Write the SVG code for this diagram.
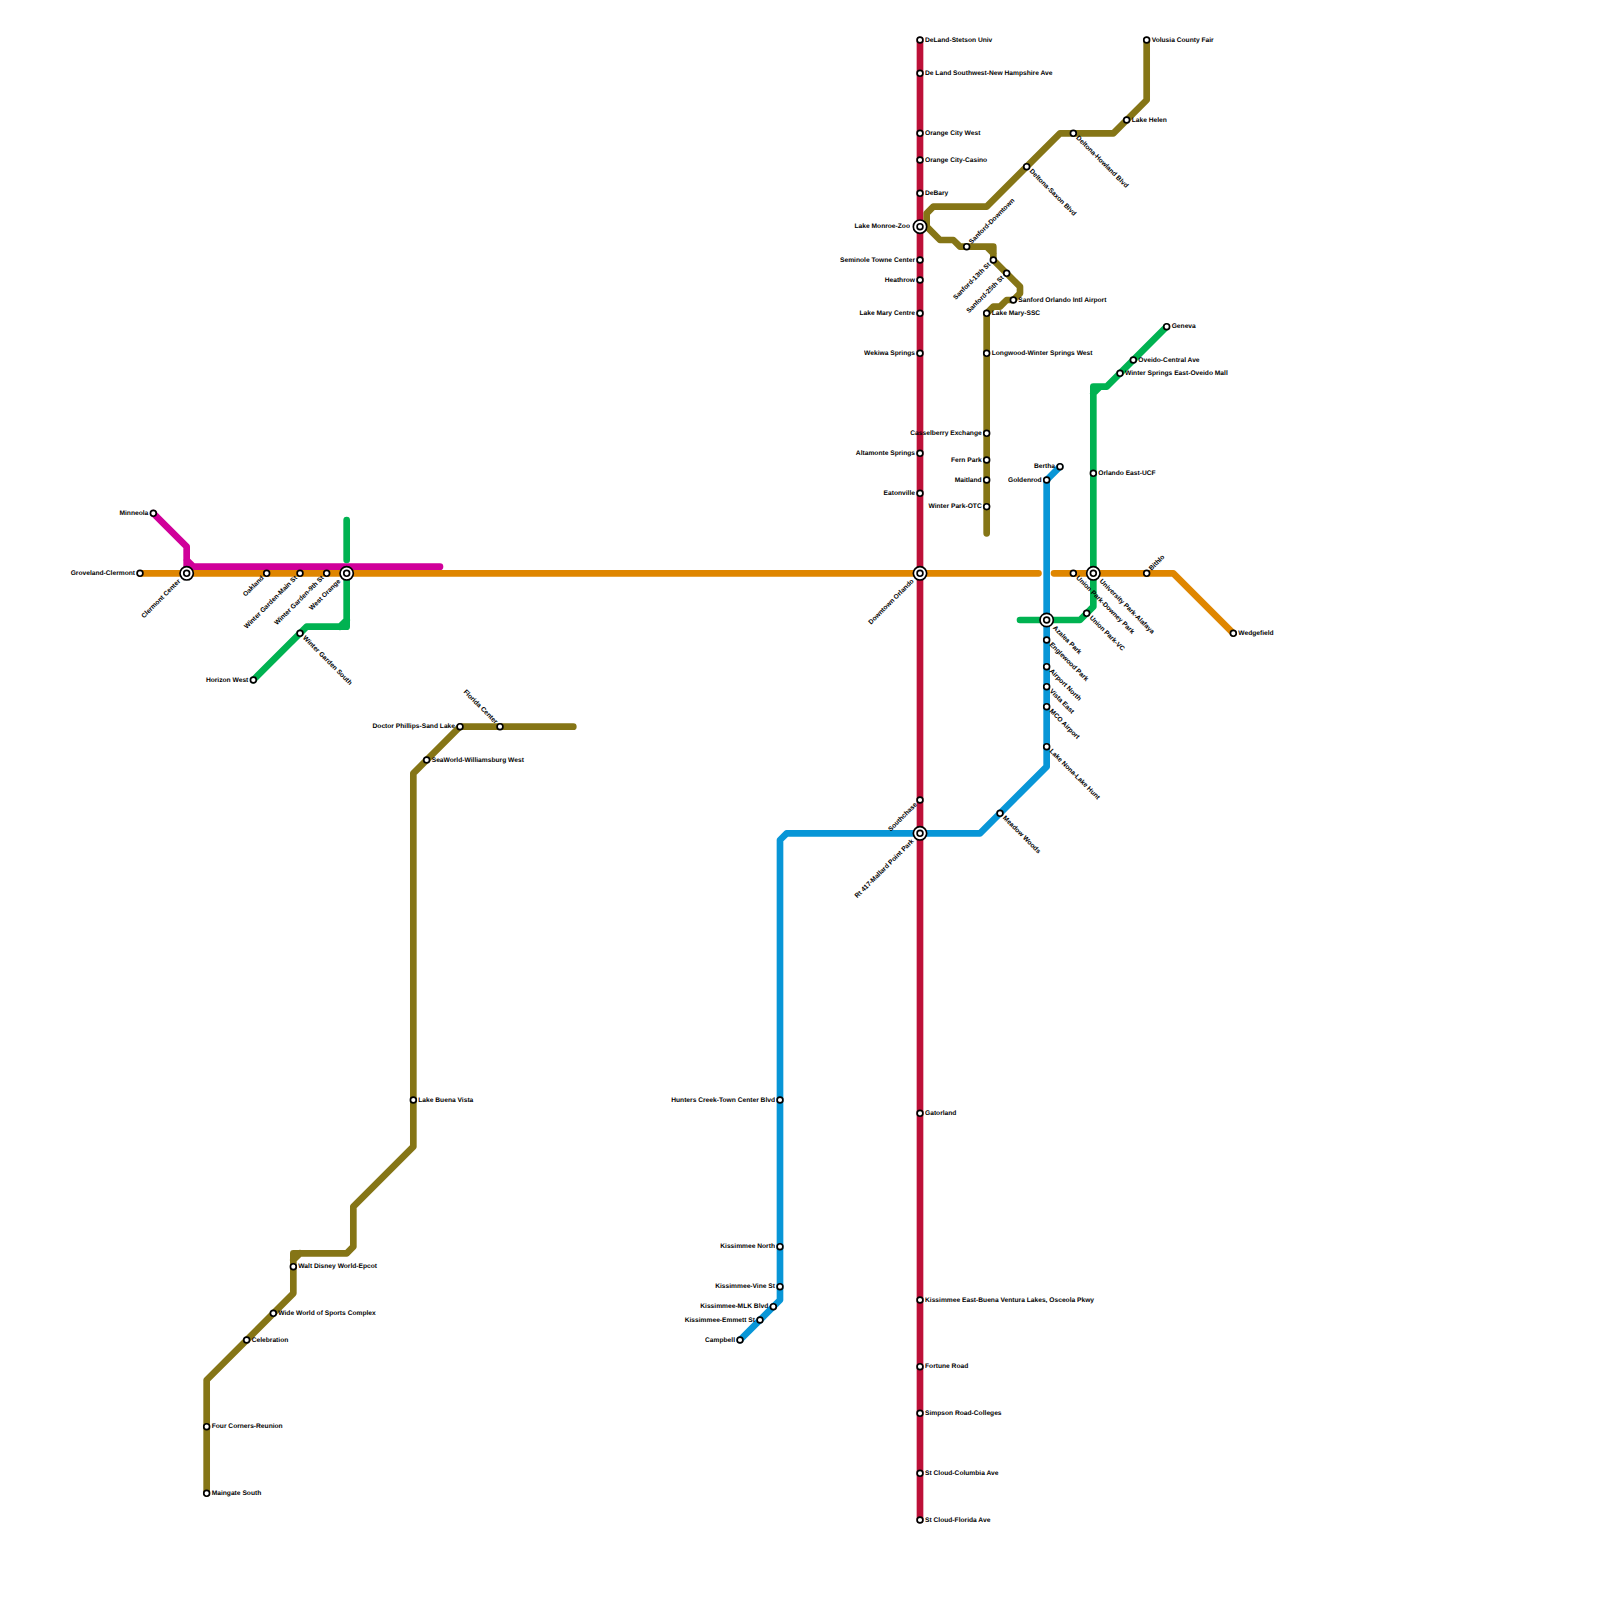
<svg xmlns="http://www.w3.org/2000/svg" width="1600" height="1600" viewBox="0 0 1600 1600">
<style>
text{font-family:"Liberation Sans",Arial,sans-serif;font-size:6.67px;font-weight:700;fill:#000;text-rendering:geometricPrecision;opacity:.999}
.e{text-anchor:end}
.l{fill:none;stroke-width:6.67;stroke-linecap:round;stroke-linejoin:round}
.red{stroke:#bd1038}.ora{stroke:#df8600}.blu{stroke:#0896d7}.oli{stroke:#857516}.gre{stroke:#00b251}.mag{stroke:#d0009a}
.s{fill:#fff;stroke:#000;stroke-width:1.67}
.o{fill:#fff;stroke:#000;stroke-width:1.67}
</style>
<g id="connectors">
<path class="l ora" d="M140 573.33H1038.5M1054 573.33H1173.33L1233.33 633.33"/>
<path class="l red" d="M920 40V1520"/>
<path class="l mag" d="M153.33 513.33L186.67 546.67V566.67M186.67 560L193.33 566.67H440"/>
<path class="l gre" d="M346.67 520V560M346.67 573.33V626.67H306.67L253.33 680M346.67 620L340 626.67"/>
<path class="l gre" d="M1020 620H1080L1093.33 606.67V386.67H1106.67L1166.67 326.67M1093.33 393.33L1100 386.67"/>
<path class="l blu" d="M1060 466.67L1046.67 480V766.67L980 833.33H786.67L780 840V1300L740 1340"/>
<path class="l oli" d="M1146.67 40V100L1113.33 133.33H1060L986.67 206.67H933.33L926.67 213.33V226.67L940 240H953.33L960 246.67H993.33V260L1020 286.67V293.33L1013.33 300H1006.67L1000 306.67H993.33L986.67 313.33V533.33M986.67 246.67L993.33 253.33"/>
<path class="l oli" d="M573.33 726.67H460L413.33 773.33V1146.67L353.33 1206.67V1246.67L346.67 1253.33H293.33V1293.33L206.67 1380V1493.33M300 1253.33L293.33 1260"/>
</g>
<g id="nodes">
<g id="n1"><circle class="s" cx="920" cy="40" r="2.9"/><text x="925" y="41.7">DeLand-Stetson Univ</text></g>
<g id="n2"><circle class="s" cx="920" cy="73.33" r="2.9"/><text x="925" y="75">De Land Southwest-New Hampshire Ave</text></g>
<g id="n3"><circle class="s" cx="920" cy="133.33" r="2.9"/><text x="925" y="135">Orange City West</text></g>
<g id="n4"><circle class="s" cx="920" cy="160" r="2.9"/><text x="925" y="161.7">Orange City-Casino</text></g>
<g id="n5"><circle class="s" cx="920" cy="193.33" r="2.9"/><text x="925" y="195">DeBary</text></g>
<g id="n6"><circle class="o" cx="920" cy="226.67" r="6.67"/><circle class="s" cx="920" cy="226.67" r="2.9"/><text class="e" x="910" y="228.3">Lake Monroe-Zoo</text></g>
<g id="n7"><circle class="s" cx="920" cy="260" r="2.9"/><text class="e" x="915" y="261.7">Seminole Towne Center</text></g>
<g id="n8"><circle class="s" cx="920" cy="280" r="2.9"/><text class="e" x="915" y="281.7">Heathrow</text></g>
<g id="n9"><circle class="s" cx="920" cy="313.33" r="2.9"/><text class="e" x="915" y="315">Lake Mary Centre</text></g>
<g id="n10"><circle class="s" cx="920" cy="353.33" r="2.9"/><text class="e" x="915" y="355">Wekiwa Springs</text></g>
<g id="n11"><circle class="s" cx="920" cy="453.33" r="2.9"/><text class="e" x="915" y="455">Altamonte Springs</text></g>
<g id="n12"><circle class="s" cx="920" cy="493.33" r="2.9"/><text class="e" x="915" y="495">Eatonville</text></g>
<g id="n13"><circle class="o" cx="920" cy="573.33" r="6.67"/><circle class="s" cx="920" cy="573.33" r="2.9"/><text class="e" transform="translate(920 573.33) rotate(-45)" x="-10" y="1.7">Downtown Orlando</text></g>
<g id="n14"><circle class="s" cx="920" cy="800" r="2.9"/><text class="e" transform="translate(920 800) rotate(-45)" x="-5.3" y="1.7">Southchase</text></g>
<g id="n15"><circle class="o" cx="920" cy="833.33" r="6.67"/><circle class="s" cx="920" cy="833.33" r="2.9"/><text class="e" transform="translate(920 833.33) rotate(-45)" x="-10" y="1.7">Rt 417-Mallard Point Park</text></g>
<g id="n16"><circle class="s" cx="920" cy="1113.33" r="2.9"/><text x="925" y="1115">Gatorland</text></g>
<g id="n17"><circle class="s" cx="920" cy="1300" r="2.9"/><text x="925" y="1301.7">Kissimmee East-Buena Ventura Lakes, Osceola Pkwy</text></g>
<g id="n18"><circle class="s" cx="920" cy="1366.67" r="2.9"/><text x="925" y="1368.3">Fortune Road</text></g>
<g id="n19"><circle class="s" cx="920" cy="1413.33" r="2.9"/><text x="925" y="1415">Simpson Road-Colleges</text></g>
<g id="n20"><circle class="s" cx="920" cy="1473.33" r="2.9"/><text x="925" y="1475">St Cloud-Columbia Ave</text></g>
<g id="n21"><circle class="s" cx="920" cy="1520" r="2.9"/><text x="925" y="1521.7">St Cloud-Florida Ave</text></g>
<g id="n22"><circle class="s" cx="140" cy="573.33" r="2.9"/><text class="e" x="135" y="575">Groveland-Clermont</text></g>
<g id="n23"><circle class="o" cx="186.67" cy="573.33" r="6.67"/><circle class="s" cx="186.67" cy="573.33" r="2.9"/><text class="e" transform="translate(186.67 573.33) rotate(-45)" x="-10" y="1.7">Clermont Center</text></g>
<g id="n24"><circle class="s" cx="266.67" cy="573.33" r="2.9"/><text class="e" transform="translate(266.67 573.33) rotate(-45)" x="-5.3" y="1.7">Oakland</text></g>
<g id="n25"><circle class="s" cx="300" cy="573.33" r="2.9"/><text class="e" transform="translate(300 573.33) rotate(-45)" x="-5.3" y="1.7">Winter Garden-Main St</text></g>
<g id="n26"><circle class="s" cx="326.67" cy="573.33" r="2.9"/><text class="e" transform="translate(326.67 573.33) rotate(-45)" x="-5.3" y="1.7">Winter Garden-9th St</text></g>
<g id="n27"><circle class="o" cx="346.67" cy="573.33" r="6.67"/><circle class="s" cx="346.67" cy="573.33" r="2.9"/><text class="e" transform="translate(346.67 573.33) rotate(-45)" x="-10" y="1.7">West Orange</text></g>
<g id="n28"><circle class="s" cx="153.33" cy="513.33" r="2.9"/><text class="e" x="148.3" y="515">Minneola</text></g>
<g id="n29"><circle class="s" cx="253.33" cy="680" r="2.9"/><text class="e" x="248.3" y="681.7">Horizon West</text></g>
<g id="n30"><circle class="s" cx="300" cy="633.33" r="2.9"/><text transform="translate(300 633.33) rotate(45)" x="5.3" y="1.7">Winter Garden South</text></g>
<g id="n31"><circle class="s" cx="460" cy="726.67" r="2.9"/><text class="e" x="455" y="728.3">Doctor Phillips-Sand Lake</text></g>
<g id="n32"><circle class="s" cx="500" cy="726.67" r="2.9"/><text class="e" transform="translate(500 726.67) rotate(45)" x="-5.3" y="1.7">Florida Center</text></g>
<g id="n33"><circle class="s" cx="426.67" cy="760" r="2.9"/><text x="431.7" y="761.7">SeaWorld-Williamsburg West</text></g>
<g id="n34"><circle class="s" cx="413.33" cy="1100" r="2.9"/><text x="418.3" y="1101.7">Lake Buena Vista</text></g>
<g id="n35"><circle class="s" cx="293.33" cy="1266.67" r="2.9"/><text x="298.3" y="1268.3">Walt Disney World-Epcot</text></g>
<g id="n36"><circle class="s" cx="273.33" cy="1313.33" r="2.9"/><text x="278.3" y="1315">Wide World of Sports Complex</text></g>
<g id="n37"><circle class="s" cx="246.67" cy="1340" r="2.9"/><text x="251.7" y="1341.7">Celebration</text></g>
<g id="n38"><circle class="s" cx="206.67" cy="1426.67" r="2.9"/><text x="211.7" y="1428.3">Four Corners-Reunion</text></g>
<g id="n39"><circle class="s" cx="206.67" cy="1493.33" r="2.9"/><text x="211.7" y="1495">Maingate South</text></g>
<g id="n40"><circle class="s" cx="780" cy="1100" r="2.9"/><text class="e" x="775" y="1101.7">Hunters Creek-Town Center Blvd</text></g>
<g id="n41"><circle class="s" cx="780" cy="1246.67" r="2.9"/><text class="e" x="775" y="1248.3">Kissimmee North</text></g>
<g id="n42"><circle class="s" cx="780" cy="1286.67" r="2.9"/><text class="e" x="775" y="1288.3">Kissimmee-Vine St</text></g>
<g id="n43"><circle class="s" cx="773.33" cy="1306.67" r="2.9"/><text class="e" x="768.3" y="1308.3">Kissimmee-MLK Blvd</text></g>
<g id="n44"><circle class="s" cx="760" cy="1320" r="2.9"/><text class="e" x="755" y="1321.7">Kissimmee-Emmett St</text></g>
<g id="n45"><circle class="s" cx="740" cy="1340" r="2.9"/><text class="e" x="735" y="1341.7">Campbell</text></g>
<g id="n46"><circle class="s" cx="1060" cy="466.67" r="2.9"/><text class="e" x="1055" y="468.3">Bertha</text></g>
<g id="n47"><circle class="s" cx="1046.67" cy="480" r="2.9"/><text class="e" x="1041.7" y="481.7">Goldenrod</text></g>
<g id="n48"><circle class="o" cx="1046.67" cy="620" r="6.67"/><circle class="s" cx="1046.67" cy="620" r="2.9"/><text transform="translate(1046.67 620) rotate(45)" x="10" y="1.7">Azalea Park</text></g>
<g id="n49"><circle class="s" cx="1046.67" cy="640" r="2.9"/><text transform="translate(1046.67 640) rotate(45)" x="5.3" y="1.7">Englewood Park</text></g>
<g id="n50"><circle class="s" cx="1046.67" cy="666.67" r="2.9"/><text transform="translate(1046.67 666.67) rotate(45)" x="5.3" y="1.7">Airport North</text></g>
<g id="n51"><circle class="s" cx="1046.67" cy="686.67" r="2.9"/><text transform="translate(1046.67 686.67) rotate(45)" x="5.3" y="1.7">Vista East</text></g>
<g id="n52"><circle class="s" cx="1046.67" cy="706.67" r="2.9"/><text transform="translate(1046.67 706.67) rotate(45)" x="5.3" y="1.7">MCO Airport</text></g>
<g id="n53"><circle class="s" cx="1046.67" cy="746.67" r="2.9"/><text transform="translate(1046.67 746.67) rotate(45)" x="5.3" y="1.7">Lake Nona-Lake Hunt</text></g>
<g id="n54"><circle class="s" cx="1000" cy="813.33" r="2.9"/><text transform="translate(1000 813.33) rotate(45)" x="5.3" y="1.7">Meadow Woods</text></g>
<g id="n55"><circle class="s" cx="1166.67" cy="326.67" r="2.9"/><text x="1171.7" y="328.3">Geneva</text></g>
<g id="n56"><circle class="s" cx="1133.33" cy="360" r="2.9"/><text x="1138.3" y="361.7">Oveido-Central Ave</text></g>
<g id="n57"><circle class="s" cx="1120" cy="373.33" r="2.9"/><text x="1125" y="375">Winter Springs East-Oveido Mall</text></g>
<g id="n58"><circle class="s" cx="1093.33" cy="473.33" r="2.9"/><text x="1098.3" y="475">Orlando East-UCF</text></g>
<g id="n59"><circle class="o" cx="1093.33" cy="573.33" r="6.67"/><circle class="s" cx="1093.33" cy="573.33" r="2.9"/><text transform="translate(1093.33 573.33) rotate(45)" x="10" y="1.7">University Park-Alafaya</text></g>
<g id="n60"><circle class="s" cx="1073.33" cy="573.33" r="2.9"/><text transform="translate(1073.33 573.33) rotate(45)" x="5.3" y="1.7">Union Park-Downey Park</text></g>
<g id="n61"><circle class="s" cx="1086.67" cy="613.33" r="2.9"/><text transform="translate(1086.67 613.33) rotate(45)" x="5.3" y="1.7">Union Park-VC</text></g>
<g id="n62"><circle class="s" cx="1146.67" cy="573.33" r="2.9"/><text transform="translate(1146.67 573.33) rotate(-45)" x="5.3" y="1.7">Bithlo</text></g>
<g id="n63"><circle class="s" cx="1233.33" cy="633.33" r="2.9"/><text x="1238.3" y="635">Wedgefield</text></g>
<g id="n64"><circle class="s" cx="966.67" cy="246.67" r="2.9"/><text transform="translate(966.67 246.67) rotate(-45)" x="5.3" y="1.7">Sanford-Downtown</text></g>
<g id="n65"><circle class="s" cx="993.33" cy="260" r="2.9"/><text class="e" transform="translate(993.33 260) rotate(-45)" x="-5.3" y="1.7">Sanford-13th St</text></g>
<g id="n66"><circle class="s" cx="1006.67" cy="273.33" r="2.9"/><text class="e" transform="translate(1006.67 273.33) rotate(-45)" x="-5.3" y="1.7">Sanford-25th St</text></g>
<g id="n67"><circle class="s" cx="1013.33" cy="300" r="2.9"/><text x="1018.3" y="301.7">Sanford Orlando Intl Airport</text></g>
<g id="n68"><circle class="s" cx="986.67" cy="313.33" r="2.9"/><text x="991.7" y="315">Lake Mary-SSC</text></g>
<g id="n69"><circle class="s" cx="986.67" cy="353.33" r="2.9"/><text x="991.7" y="355">Longwood-Winter Springs West</text></g>
<g id="n70"><circle class="s" cx="986.67" cy="433.33" r="2.9"/><text class="e" x="981.7" y="435">Casselberry Exchange</text></g>
<g id="n71"><circle class="s" cx="986.67" cy="460" r="2.9"/><text class="e" x="981.7" y="461.7">Fern Park</text></g>
<g id="n72"><circle class="s" cx="986.67" cy="480" r="2.9"/><text class="e" x="981.7" y="481.7">Maitland</text></g>
<g id="n73"><circle class="s" cx="986.67" cy="506.67" r="2.9"/><text class="e" x="981.7" y="508.3">Winter Park-OTC</text></g>
<g id="n74"><circle class="s" cx="1026.67" cy="166.67" r="2.9"/><text transform="translate(1026.67 166.67) rotate(45)" x="5.3" y="1.7">Deltona-Saxon Blvd</text></g>
<g id="n75"><circle class="s" cx="1073.33" cy="133.33" r="2.9"/><text transform="translate(1073.33 133.33) rotate(45)" x="5.3" y="1.7">Deltona-Howland Blvd</text></g>
<g id="n76"><circle class="s" cx="1126.67" cy="120" r="2.9"/><text x="1131.7" y="121.7">Lake Helen</text></g>
<g id="n77"><circle class="s" cx="1146.67" cy="40" r="2.9"/><text x="1151.7" y="41.7">Volusia County Fair</text></g>
</g>
</svg>
